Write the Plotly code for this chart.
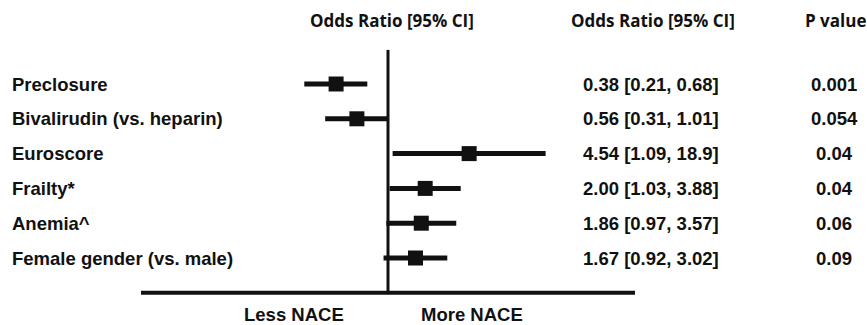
import plotly.graph_objects as go

labels = ["Preclosure", "Bivalirudin (vs. heparin)", "Euroscore", "Frailty*", "Anemia^", "Female gender (vs. male)"]
odds = [0.38, 0.56, 4.54, 2.00, 1.86, 1.67]
lower = [0.21, 0.31, 1.09, 1.03, 0.97, 0.92]
upper = [0.68, 1.01, 18.9, 3.88, 3.57, 3.02]
pvals = ["0.001", "0.054", "0.04", "0.04", "0.06", "0.09"]
ci_text = ["0.38 [0.21, 0.68]", "0.56 [0.31, 1.01]", "4.54 [1.09, 18.9]",
           "2.00 [1.03, 3.88]", "1.86 [0.97, 3.57]", "1.67 [0.92, 3.02]"]
headers = ["Odds Ratio [95% CI]", "Odds Ratio [95% CI]", "P value"]
bottom_labels = ["Less NACE", "More NACE"]

rows = list(range(len(labels)))
W, H = 867, 325
ink = "#111111"
lab_font = dict(family="Liberation Sans, Arial", size=18.5, color=ink, weight="bold")
head_font = dict(family="Open Sans", size=17, color=ink, weight=700)

fig = go.Figure()

# CI lines
xs, ys = [], []
for lo, hi, r in zip(lower, upper, rows):
    xs += [lo, hi, None]
    ys += [r, r, None]
fig.add_trace(go.Scatter(x=xs, y=ys, mode="lines",
                         line=dict(color=ink, width=5), hoverinfo="skip"))
fig.add_trace(go.Scatter(x=odds, y=rows, mode="markers",
                         marker=dict(symbol="square", size=15, color=ink)))

# reference lines
fig.add_shape(type="line", xref="x", yref="y", x0=1, x1=1, y0=-0.98, y1=6.0,
              line=dict(color=ink, width=3))
fig.add_shape(type="line", xref="x", yref="y", x0=0.01, x1=100, y0=6.0, y1=6.0,
              line=dict(color=ink, width=4))

ann = []
for lab, r in zip(labels, rows):
    ann.append(dict(x=10 / W, xref="paper", y=r, yref="y", text=lab, showarrow=False,
                    xanchor="left", yanchor="middle", font=lab_font))
for t, r in zip(ci_text, rows):
    ann.append(dict(x=651 / W, xref="paper", y=r, yref="y", text=t, showarrow=False,
                    xanchor="center", yanchor="middle", font=lab_font))
for t, r in zip(pvals, rows):
    ann.append(dict(x=834 / W, xref="paper", y=r, yref="y", text=t, showarrow=False,
                    xanchor="center", yanchor="middle", font=lab_font))
for t, xc in zip(headers, [392, 653, 835]):
    ann.append(dict(x=xc / W, xref="paper", y=1 - 20 / H, yref="paper", text=t,
                    showarrow=False, xanchor="center", yanchor="middle", font=head_font))
for t, xc in zip(bottom_labels, [294, 472]):
    ann.append(dict(x=xc / W, xref="paper", y=1 - 314 / H, yref="paper", text=t,
                    showarrow=False, xanchor="center", yanchor="middle", font=lab_font))

fig.update_layout(
    width=W, height=H, margin=dict(l=0, r=0, t=0, b=0),
    paper_bgcolor="white", plot_bgcolor="white", showlegend=False,
    annotations=ann,
    xaxis=dict(type="log", range=[-2, 2], domain=[141 / W, 635 / W],
               visible=False, showgrid=False, zeroline=False),
    yaxis=dict(range=[(325 - 84) / 34.8, -84 / 34.8], visible=False,
               showgrid=False, zeroline=False),
)

fig.write_html("out.html", config={"displayModeBar": False},
               post_script="document.body.style.margin='0';document.body.style.overflow='hidden';")
